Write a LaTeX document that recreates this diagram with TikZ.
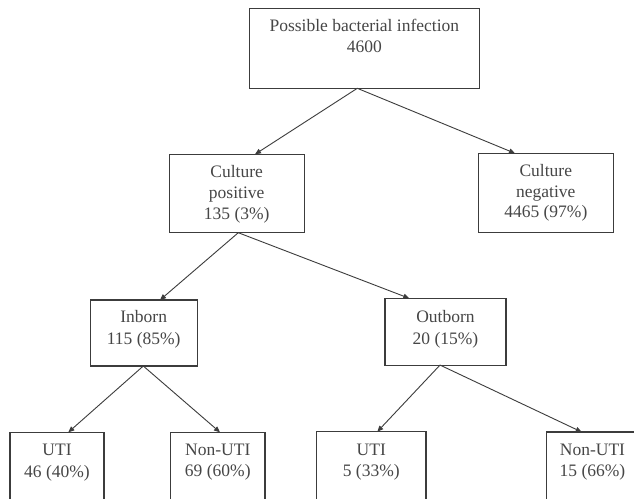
\documentclass[tikz,border=0pt]{standalone}
\usepackage{fontspec}
\setmainfont{Liberation Serif}
\usetikzlibrary{arrows.meta}
\definecolor{ink}{RGB}{60,60,60}
\definecolor{txt}{RGB}{70,70,70}
\tikzset{
  box/.style={draw=ink, line width=1.1pt, rectangle, inner sep=0pt, outer sep=0pt},
  lbl/.style={anchor=north, inner sep=0pt, align=center, text=txt, font=\fontsize{17.5}{20.8}\selectfont},
  arr/.style={draw=ink, line width=0.9pt, -{Triangle[length=6pt,width=5pt]}}
}
\newcommand{\fl}{\rule{0pt}{13pt}}
\begin{document}
\begin{tikzpicture}[x=1pt,y=-1pt]
\useasboundingbox (0,0) rectangle (634,498);
\clip (0,0) rectangle (634,498);
\fill[white] (0,0) rectangle (634,498);
% boxes
\node[box, minimum width=229.8pt, minimum height=80pt] (top) at (364.4,48.3) {};
\node[box, minimum width=134.7pt, minimum height=78.4pt] (pos) at (236.7,193.5) {};
\node[box, minimum width=135pt, minimum height=79.4pt] (neg) at (545.8,193) {};
\node[box, minimum width=107.3pt, minimum height=66pt] (inb) at (143.7,333) {};
\node[box, minimum width=121pt, minimum height=66.7pt] (outb) at (445.5,331.7) {};
\node[box, minimum width=94pt, minimum height=90pt] (uti1) at (57,477.3) {};
\node[box, minimum width=94.3pt, minimum height=90pt] (non1) at (217.8,477.3) {};
\node[box, minimum width=109.3pt, minimum height=90pt] (uti2) at (371.3,476.7) {};
\node[box, minimum width=91.6pt, minimum height=90pt] (non2) at (592.5,477) {};
% labels
\node[lbl] (ttop) at (364.4,18.5) {\fl Possible bacterial infection\\4600};
\node[lbl] (tpos) at (236.7,164.5) {\fl Culture\\positive\\135 (3\%)};
\node[lbl] (tneg) at (545.8,163) {\fl Culture\\negative\\4465 (97\%)};
\node[lbl, font=\fontsize{17.5}{21.5}\selectfont] (tinb) at (143.7,309.5) {\fl Inborn\\115 (85\%)};
\node[lbl, font=\fontsize{17.5}{21.5}\selectfont] (toutb) at (445.5,309.5) {\fl Outborn\\20 (15\%)};
\node[lbl, font=\fontsize{17.5}{21.5}\selectfont] (tuti1) at (57,442.5) {\fl UTI\\46 (40\%)};
\node[lbl, font=\fontsize{17.5}{21.5}\selectfont] (tnon1) at (217.8,442) {\fl Non-UTI\\69 (60\%)};
\node[lbl, font=\fontsize{17.5}{21.5}\selectfont] (tuti2) at (371.3,442) {\fl UTI\\5 (33\%)};
\node[lbl, font=\fontsize{17.5}{21.5}\selectfont] (tnon2) at (592.5,442) {\fl Non-UTI\\15 (66\%)};
% connectors
\draw[arr] ([xshift=-7.1pt]top.south) -- ([xshift=18.3pt]pos.north);
\draw[arr] ([xshift=-7.1pt]top.south) -- ([xshift=-30.8pt]neg.north);
\draw[arr] ([xshift=1.6pt]pos.south) -- ([xshift=16.3pt]inb.north);
\draw[arr] ([xshift=1.6pt]pos.south) -- ([xshift=-36.2pt]outb.north);
\draw[arr] ([xshift=-0.4pt]inb.south) -- ([xshift=11.3pt]uti1.north);
\draw[arr] ([xshift=-0.4pt]inb.south) -- ([xshift=2.2pt]non1.north);
\draw[arr] ([xshift=-5.5pt]outb.south) -- ([xshift=6pt]uti2.north);
\draw[arr] ([xshift=-5.5pt]outb.south) -- ([xshift=-10.8pt]non2.north);
\end{tikzpicture}
\end{document}
